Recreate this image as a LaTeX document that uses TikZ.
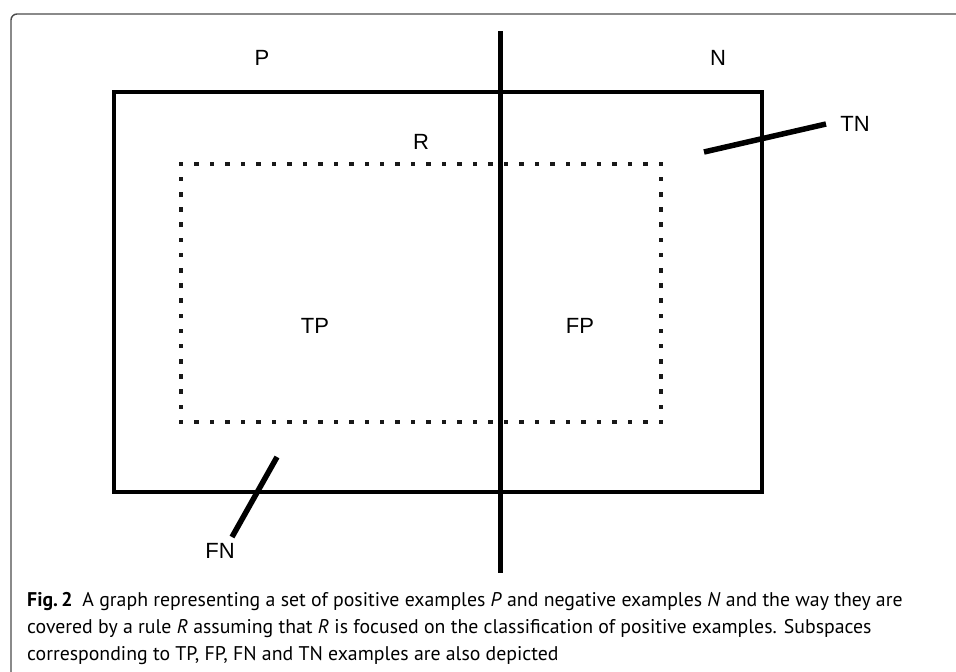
\documentclass[tikz,border=0pt]{standalone}
\usepackage{fontspec}
\setmainfont{Liberation Sans}
\newfontfamily\capfont{PT Sans}
\begin{document}
\begin{tikzpicture}[x=1pt,y=-1pt,
  lbl/.style={font=\fontsize{22}{24}\selectfont, inner sep=0pt},
  thick box/.style={draw, line width=4pt, inner sep=0pt},
  leader/.style={line width=5.5pt},
  dotsq/.style={fill=black!90},
  capline/.style={anchor=base west, inner sep=0pt, font=\capfont\fontsize{19.8}{22}\selectfont}]
\useasboundingbox (0,0) rectangle (956,672);
% figure frame
\draw[line width=1.4pt, black!70, rounded corners=6pt] (11,672) -- (11,14) -- (956,14);
% universe rectangle
\node[thick box, minimum width=648pt, minimum height=400pt] (U) at (438,292) {};
% dividing line
\coordinate (vtop) at (500,31);
\coordinate (vbot) at (500,573);
\draw[line width=5pt] (vtop) -- (vbot);
% rule R dotted rectangle (square dots)
\foreach \i in {0,...,31} {
  \fill[dotsq] ({181+\i*15.48-2.25},161.75) rectangle ++(4.5,4.5);
  \fill[dotsq] ({181+\i*15.48-2.25},419.75) rectangle ++(4.5,4.5);
}
\foreach \j in {1,...,16} {
  \fill[dotsq] (178.75,{164+\j*15.18-2.25}) rectangle ++(4.5,4.5);
  \fill[dotsq] (658.75,{164+\j*15.18-2.25}) rectangle ++(4.5,4.5);
}
% labels
\node[lbl] (P) at (262,58) {P};
\node[lbl] (N) at (718,58) {N};
\node[lbl] (R) at (421,142) {R};
\node[lbl] (TP) at (315,326) {TP};
\node[lbl] (FP) at (580,326) {FP};
\node[lbl] (TN) at (855,124) {TN};
\node[lbl] (FN) at (220,551) {FN};
% leaders
\coordinate (tnA) at (704,152);
\coordinate (tnB) at (826,124);
\draw[leader] (tnA) -- (tnB);
\coordinate (fnA) at (277,457);
\coordinate (fnB) at (232,537);
\draw[leader] (fnA) -- (fnB);
% caption
\node[capline] (c1) at (27,606) {\textbf{Fig.\,2}\enspace A graph representing a set of positive examples \textit{P} and negative examples \textit{N} and the way they are};
\node[capline] (c2) at (27,633) {covered by a rule \textit{R} assuming that \textit{R} is focused on the classification of positive examples. Subspaces};
\node[capline] (c3) at (27,660) {corresponding to TP, FP, FN and TN examples are also depicted};
\end{tikzpicture}
\end{document}
